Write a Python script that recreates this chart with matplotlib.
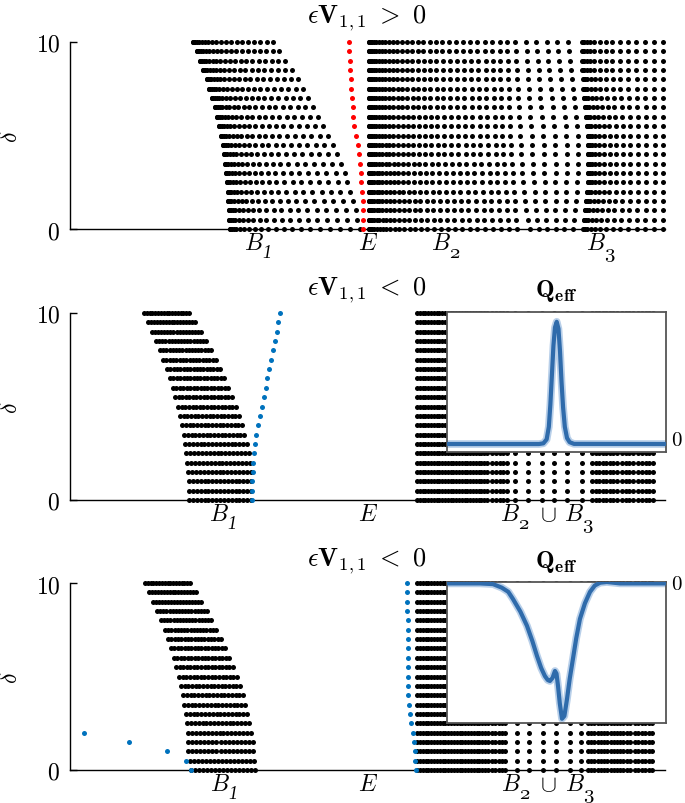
import numpy as np
import matplotlib.pyplot as plt

plt.rcParams['mathtext.fontset'] = 'cm'
plt.rcParams['font.family'] = ['DejaVu Serif']

# delta grid: 21 rows, 0 ... 10
DELTA = [0.0, 0.5, 1.0, 1.5, 2.0, 2.5, 3.0, 3.5, 4.0, 4.5, 5.0,
         5.5, 6.0, 6.5, 7.0, 7.5, 8.0, 8.5, 9.0, 9.5, 10.0]

# ---- panel 1 (eps V11 > 0), band edges per delta row (energy, arb. units)
P1_B1_LEFT = [16.0, 15.9, 15.9, 15.8, 15.8, 15.7, 15.6, 15.5, 15.4, 15.3, 15.1,
              14.9, 14.7, 14.5, 14.2, 13.9, 13.7, 13.3, 13.0, 12.7, 12.3]
P1_B1_RIGHT = [29.0, 28.7, 28.6, 28.3, 28.0, 27.7, 27.5, 27.1, 26.7, 26.3, 25.8,
               25.3, 24.8, 24.3, 23.8, 23.3, 22.8, 22.2, 21.5, 20.9, 20.3]
P1_RED = [29.33, 29.33, 29.3, 29.27, 29.2, 29.13, 29.07, 29.0, 28.9, 28.77, 28.6,
          28.43, 28.33, 28.27, 28.2, 28.1, 28.07, 28.0, 27.97, 27.93, 27.9]
# B2: dense part, then a sparse strip of isolated states
P1_B2_LEFT = [29.9] * 21
P1_B2_RIGHT = [44.7, 44.6, 44.5, 44.5, 44.4, 44.3, 44.3, 44.2, 44.1, 44.1, 44.0,
               44.0, 44.0, 43.9, 43.9, 43.9, 43.8, 43.8, 43.8, 43.7, 43.7]
P1_SPARSE_LEFT = [46.0, 45.8, 45.6, 45.5, 45.4, 45.3, 45.2, 45.2, 45.1, 45.1, 45.0,
                  45.0, 44.9, 44.9, 44.8, 44.8, 44.7, 44.7, 44.6, 44.6, 44.5]
P1_SPARSE_RIGHT = [50.3, 50.4, 50.5, 50.6, 50.7, 50.7, 50.8, 50.8, 50.8, 50.8, 50.8,
                   50.7, 50.6, 50.5, 50.4, 50.3, 50.2, 50.1, 50.0, 49.9, 49.8]
P1_B3_LEFT = [51.3, 51.4, 51.5, 51.6, 51.7, 51.8, 51.8, 51.8, 51.8, 51.8, 51.8,
              51.7, 51.6, 51.5, 51.4, 51.3, 51.3, 51.2, 51.2, 51.2, 51.2]
P1_B3_RIGHT = [59.3] * 21

# ---- panel 2 (eps V11 < 0)
P2_B1_LEFT = [11.9, 11.9, 11.9, 11.8, 11.7, 11.6, 11.5, 11.4, 11.2, 11.0, 10.8,
              10.5, 10.3, 10.0, 9.7, 9.3, 9.0, 8.6, 8.2, 7.8, 7.4]
P2_B1_RIGHT = [18.1, 18.1, 18.1, 18.1, 18.0, 17.9, 17.7, 17.4, 17.2, 16.9, 16.6,
               16.2, 15.8, 15.4, 15.0, 14.6, 14.1, 13.6, 13.1, 12.5, 11.9]
P2_BLUE = [18.2, 18.2, 18.23, 18.27, 18.33, 18.4, 18.5, 18.63, 18.8, 19.0, 19.2,
           19.37, 19.57, 19.73, 19.9, 20.1, 20.3, 20.5, 20.67, 20.83, 21.0]
# right band B2 u B3: dense segments (left, right, count) and isolated columns
P2_SEGS = [(34.7, 41.7, 26), (42.2, 43.7, 5), (52.2, 54.7, 8), (55.2, 56.3, 4), (56.8, 58.3, 5)]
P2_COLS = [44.5, 45.8, 47.2, 48.4, 49.7, 51.2]

# ---- panel 3 (eps V11 < 0)
P3_B1_LEFT = [12.1, 12.0, 11.8, 11.8, 11.8, 11.7, 11.6, 11.4, 11.3, 11.1, 10.9,
              10.6, 10.4, 10.1, 9.8, 9.5, 9.1, 8.7, 8.3, 7.9, 7.5]
P3_B1_RIGHT = [18.5, 18.4, 18.3, 18.3, 18.1, 17.9, 17.7, 17.5, 17.3, 17.0, 16.7,
               16.3, 15.9, 15.5, 15.1, 14.6, 14.1, 13.7, 13.1, 12.6, 12.0]
P3_BLUE_LOW_D = [0.0, 0.5, 1.0, 1.5, 2.0]
P3_BLUE_LOW_E = [12.1, 11.57, 9.67, 5.93, 1.4]
P3_BLUE_EDGE = [34.57, 34.5, 34.47, 34.4, 34.27, 34.07, 33.95, 33.88, 33.83, 33.8, 33.8,
                33.8, 33.8, 33.8, 33.8, 33.75, 33.75, 33.7, 33.7, 33.7, 33.7]
P3_SEGS = [(34.7, 41.8, 26), (42.2, 43.5, 5), (51.8, 54.7, 10), (55.0, 56.0, 4), (56.5, 58.2, 6)]
P3_COLS = [44.67, 45.9, 47.27, 48.6, 50.0, 51.07]

# ---- insets: Q_eff profiles
Q2_X = [0.0, 0.42, 0.44, 0.455, 0.465, 0.472, 0.479, 0.486, 0.493, 0.501, 0.509,
        0.516, 0.523, 0.530, 0.538, 0.548, 0.56, 0.58, 1.0]
Q2_Y = [0.057, 0.057, 0.062, 0.09, 0.18, 0.34, 0.55, 0.76, 0.89, 0.93, 0.88,
        0.72, 0.50, 0.32, 0.18, 0.10, 0.07, 0.058, 0.057]
Q3_X = [0.0, 0.15, 0.21, 0.25, 0.28, 0.301, 0.335, 0.365, 0.39, 0.411, 0.43, 0.447,
        0.46, 0.470, 0.482, 0.493, 0.500, 0.507, 0.515, 0.525, 0.536, 0.548, 0.56,
        0.575, 0.59, 0.607, 0.63, 0.653, 0.675, 0.699, 0.73, 0.79, 1.0]
Q3_Y = [0.99, 0.99, 0.985, 0.96, 0.93, 0.88, 0.79, 0.69, 0.58, 0.475, 0.39, 0.333,
        0.305, 0.298, 0.32, 0.369, 0.35, 0.262, 0.14, 0.03, 0.05, 0.17, 0.31,
        0.454, 0.60, 0.738, 0.85, 0.93, 0.975, 0.995, 1.0, 0.99, 0.99]

# x labels: (energy position, main glyph, subscript)
P1_LABELS = [(18.35, 'B', '1'), (29.85, 'E', ''), (37.1, 'B', '2'), (52.6, 'B', '3')]
P2_LABELS = [(14.85, 'B', '1'), (29.85, 'E', ''), (44.0, 'B', '2'), (47.8, r'\cup', ''),
             (50.4, 'B', '3')]
P3_LABELS = [(15.0, 'B', '1'), (29.85, 'E', ''), (44.05, 'B', '2'), (47.8, r'\cup', ''),
             (50.45, 'B', '3')]

BLUE = '#0072bd'
RED = '#ff0000'
MS = 3.6
XMAX = 59.5


def row_points(left, right, n, law):
    # eigenvalue positions of one delta row inside a band
    t = np.linspace(0, 1, n)
    if law == 'edge':      # dense at the lower band edge
        s = 1 - np.cos(t * np.pi / 2)
    elif law == 'cos':     # dense at both edges
        s = (1 - np.cos(t * np.pi)) / 2
    else:
        s = t
    return left + (right - left) * s


def draw_band(ax, lefts, rights, n, law, color='k'):
    xs, ys = [], []
    for d, l, r in zip(DELTA, lefts, rights):
        p = row_points(l, r, n, law)
        xs.extend(p)
        ys.extend([d] * len(p))
    ax.plot(xs, ys, 'o', ms=MS, color=color, mec='none', clip_on=False, zorder=3)


def draw_segments(ax, segs, cols):
    xs, ys = [], []
    for d in DELTA:
        for l, r, n in segs:
            p = row_points(l, r, n, 'lin')
            xs.extend(p)
            ys.extend([d] * n)
        xs.extend(cols)
        ys.extend([d] * len(cols))
    ax.plot(xs, ys, 'o', ms=MS, color='k', mec='none', clip_on=False, zorder=3)


def style_axes(ax, labels):
    ax.set_xlim(0, XMAX)
    ax.set_ylim(0, 10)
    for s in ['top', 'right']:
        ax.spines[s].set_visible(False)
    ax.spines['left'].set_bounds(0, 10)
    ax.spines['left'].set_linewidth(1.0)
    ax.spines['bottom'].set_linewidth(1.0)
    ax.set_yticks([0, 10])
    ax.set_yticklabels(['$0$', '$10$'], fontsize=17)
    ax.tick_params(axis='y', direction='in', length=5, width=1.0, pad=7)
    ax.set_xticks([])
    ax.set_ylabel(r'$\delta$', fontsize=17, labelpad=10)
    ax.patch.set_alpha(0)
    # MATLAB-like labels with large, lowered subscripts
    for x, main, sub in labels:
        ax.text(x, -0.74, '$%s$' % main, fontsize=17, ha='center', va='center')
        if sub == '1':
            ax.text(x + 1.3, -1.25, sub, fontsize=13, family='Liberation Serif',
                    style='italic', ha='center', va='center')
        elif sub:
            ax.text(x + 1.35, -1.22, sub, fontsize=15, family='cmmi10',
                    ha='center', va='center')


def draw_inset(fig, rect, qx, qy):
    ins = fig.add_axes(rect)
    ins.plot(qx, qy, color='#b8cfe9', lw=5.5, solid_capstyle='butt', zorder=2)
    ins.plot(qx, qy, color='#2f6bab', lw=3.0, solid_capstyle='butt', zorder=3)
    ins.set_xlim(0, 1)
    ins.set_ylim(0, 1)
    ins.set_xticks([])
    ins.set_yticks([])
    for s in ins.spines.values():
        s.set_edgecolor('#555555')
        s.set_linewidth(1.3)
    ins.set_facecolor('white')
    return ins


TITLE_POS = r'$\mathbf{\epsilon V}_{\mathbf{1,1}}\ \mathbf{>}\ \mathbf{0}$'
TITLE_NEG = r'$\mathbf{\epsilon V}_{\mathbf{1,1}}\ \mathbf{<}\ \mathbf{0}$'
QEFF = r'$\mathbf{Q}_{\mathbf{eff}}$'

fig = plt.figure(figsize=(6.85, 8.04), dpi=100)
W, H = 685.0, 804.0
AX_L, AX_W = 70 / W, 595 / W

# panel 1
ax1 = fig.add_axes([AX_L, 1 - 230 / H, AX_W, 187 / H])
draw_band(ax1, P1_B1_LEFT, P1_B1_RIGHT, 21, 'edge')
draw_band(ax1, P1_B2_LEFT, P1_B2_RIGHT, 30, 'edge')
draw_band(ax1, P1_SPARSE_LEFT, P1_SPARSE_RIGHT, 6, 'lin')
draw_band(ax1, P1_B3_LEFT, P1_B3_RIGHT, 15, 'edge')
ax1.plot(P1_RED, DELTA, 'o', ms=MS, color=RED, mec='none', clip_on=False, zorder=4)
style_axes(ax1, P1_LABELS)
fig.text(367 / W, 1 - 18 / H, TITLE_POS, fontsize=19, ha='center', va='center')

# panel 2
ax2 = fig.add_axes([AX_L, 1 - 501 / H, AX_W, 187 / H])
draw_band(ax2, P2_B1_LEFT, P2_B1_RIGHT, 17, 'lin')
draw_segments(ax2, P2_SEGS, P2_COLS)
ax2.plot(P2_BLUE, DELTA, 'o', ms=MS, color=BLUE, mec='none', clip_on=False, zorder=4)
style_axes(ax2, P2_LABELS)
fig.text(367 / W, 1 - 290 / H, TITLE_NEG, fontsize=19, ha='center', va='center')
draw_inset(fig, [447 / W, 1 - 453 / H, 219 / W, 140 / H], Q2_X, Q2_Y)
fig.text(556 / W, 1 - 291 / H, QEFF, fontsize=18, ha='center', va='center')
fig.text(671 / W, 1 - 441 / H, '$0$', fontsize=15, ha='left', va='center')

# panel 3
ax3 = fig.add_axes([AX_L, 1 - 771 / H, AX_W, 187 / H])
draw_band(ax3, P3_B1_LEFT, P3_B1_RIGHT, 17, 'lin')
draw_segments(ax3, P3_SEGS, P3_COLS)
ax3.plot(P3_BLUE_EDGE, DELTA, 'o', ms=MS, color=BLUE, mec='none', clip_on=False, zorder=4)
ax3.plot(P3_BLUE_LOW_E, P3_BLUE_LOW_D, 'o', ms=MS, color=BLUE, mec='none', clip_on=False, zorder=4)
style_axes(ax3, P3_LABELS)
fig.text(367 / W, 1 - 561 / H, TITLE_NEG, fontsize=19, ha='center', va='center')
draw_inset(fig, [447 / W, 1 - 724 / H, 219 / W, 141 / H], Q3_X, Q3_Y)
fig.text(556 / W, 1 - 562 / H, QEFF, fontsize=18, ha='center', va='center')
fig.text(671 / W, 1 - 585 / H, '$0$', fontsize=15, ha='left', va='center')

fig.savefig('out.png', dpi=100)
